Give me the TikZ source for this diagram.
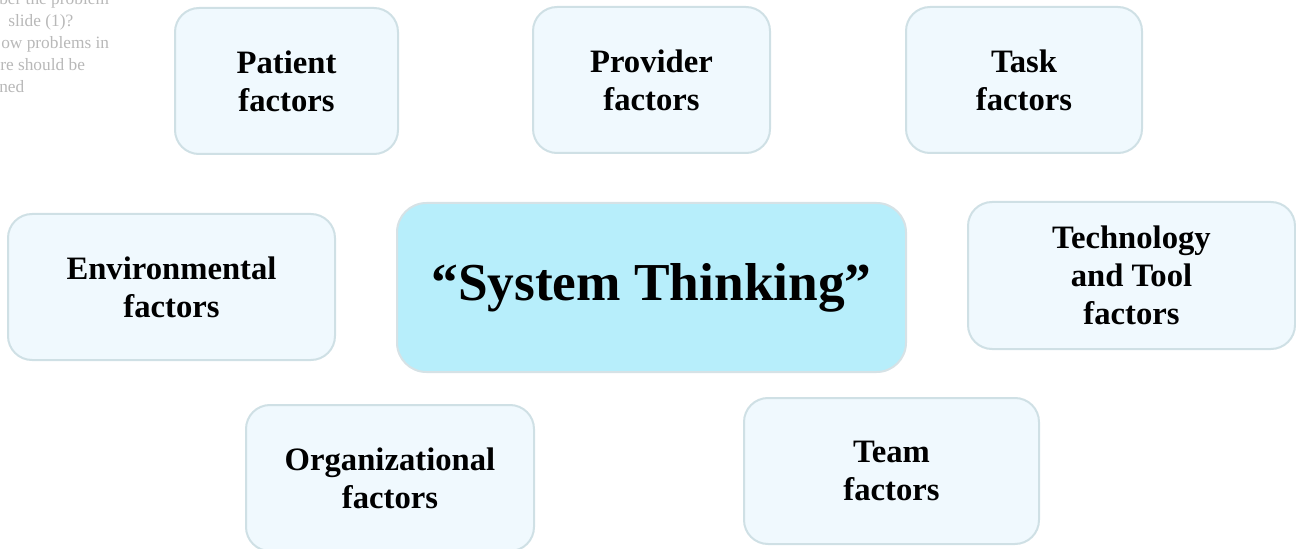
\documentclass[tikz,border=0pt]{standalone}
\usepackage{fontspec}
\setmainfont{Liberation Serif}

\definecolor{boxfill}{HTML}{F0F9FE}
\definecolor{boxline}{HTML}{CFE0E5}
\definecolor{corefill}{HTML}{B7EEFB}
\definecolor{coreline}{HTML}{D6E2E6}
\definecolor{notegray}{HTML}{B8B8B8}

\begin{document}
\begin{tikzpicture}[x=0.75pt,y=-0.75pt]
\tikzstyle{every node}=[]
\tikzstyle{factor}=[draw=boxline, fill=boxfill, line width=1.5pt, rounded corners=18pt,
  align=center, minimum height=109.5pt, inner sep=0pt,
  font=\fontsize{24.5}{28.5}\selectfont\bfseries]
\tikzstyle{core}=[draw=coreline, fill=corefill, line width=1.5pt, rounded corners=22pt,
  align=center, inner sep=0pt, font=\fontsize{40}{48}\selectfont\bfseries]
\tikzstyle{note}=[anchor=base west, text=notegray, inner sep=0pt, font=\fontsize{13}{16.5}\selectfont]

\useasboundingbox (0,0) rectangle (1296,549);
\clip (0,0) rectangle (1296,549);

% note lines, their left part runs off the page
\foreach \t/\x/\y [count=\i] in {ber the problem/-1/5, slide (1)?/8/27,
    ow problems in/1/49, re should be/0/71, ned/-1/93}
  \node[note] (note\i) at (\x,\y) {\t};

\node[core, minimum width=381.75pt, minimum height=126.75pt] (ST) at (651.5,287.5) {``System Thinking''};

\node[factor, minimum width=167.25pt] (pat) at (286.5,81) {Patient\\factors};
\node[factor, minimum width=177.75pt] (prov) at (651.5,80) {Provider\\factors};
\node[factor, minimum width=177pt] (task) at (1024,80) {Task\\factors};
\node[factor, minimum width=245.25pt] (env) at (171.5,287) {Environmental\\factors};
\node[factor, minimum width=245.25pt, minimum height=110.25pt] (tech) at (1131.5,275.5) {Technology\\and Tool\\factors};
\node[factor, minimum width=216pt] (org) at (390,478) {Organizational\\factors};
\node[factor, minimum width=221.25pt] (team) at (891.5,471) {Team\\factors};

\end{tikzpicture}
\end{document}
